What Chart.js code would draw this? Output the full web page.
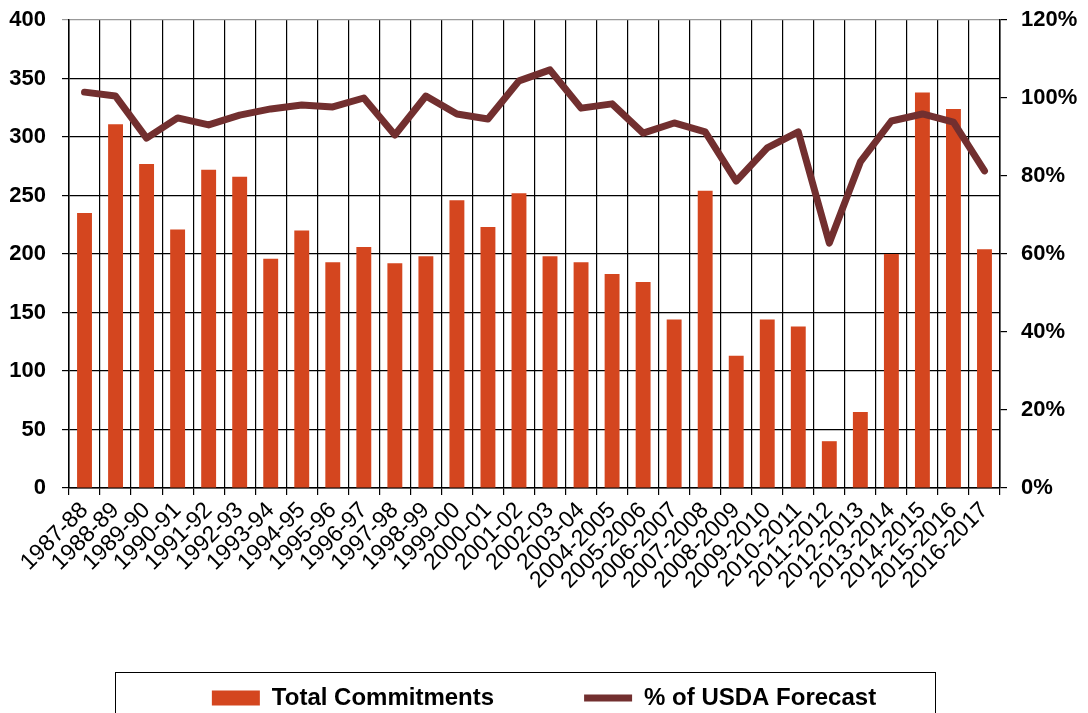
<!DOCTYPE html>
<html>
<head>
<meta charset="utf-8">
<script src="https://cdn.jsdelivr.net/npm/chart.js@4"></script>
<style>
  html, body { margin: 0; padding: 0; background: #fff; }
  #wrap { width: 1088px; height: 713px; }
</style>
</head>
<body>
<div id="wrap"><canvas id="chart" width="1088" height="713"></canvas></div>
<script>
// Crop years
const seasons = ['1987-88', '1988-89', '1989-90', '1990-91', '1991-92', '1992-93', '1993-94', '1994-95',
  '1995-96', '1996-97', '1997-98', '1998-99', '1999-00', '2000-01', '2001-02', '2002-03', '2003-04',
  '2004-2005', '2005-2006', '2006-2007', '2007-2008', '2008-2009', '2009-2010', '2010-2011',
  '2011-2012', '2012-2013', '2013-2014', '2014-2015', '2015-2016', '2016-2017'];

// Total commitments (left axis)
const commitments = [235, 311, 277, 221, 272, 266, 196, 220, 193, 206, 192, 198, 246, 223, 252, 198, 193,
  183, 176, 144, 254, 113, 144, 138, 40, 65, 200, 338, 324, 204];

// % of USDA forecast (right axis)
const pctForecast = [101.5, 100.5, 89.7, 94.9, 93.1, 95.6, 97.2, 98.2, 97.7, 100, 90.5, 100.5, 95.9, 94.6,
  104.4, 107.2, 97.4, 98.5, 91, 93.6, 91.3, 78.7, 87.2, 91.3, 62.8, 83.6, 94.1, 95.9, 93.8, 81.3];

const leftTicks = [0, 50, 100, 150, 200, 250, 300, 350, 400];
const rightTicks = [0, 20, 40, 60, 80, 100, 120];

const barColor = '#D4461F';
const lineColor = '#722F2F';
const font = 'Liberation Sans, Arial, sans-serif';

// box around the legend
const legendFrame = {
  id: 'legendFrame',
  afterDraw(chart) {
    const ctx = chart.ctx;
    ctx.save();
    ctx.strokeStyle = '#000';
    ctx.lineWidth = 1;
    ctx.strokeRect(115.5, 672.5, 820, 60);
    ctx.restore();
  }
};

const ctx = document.getElementById('chart').getContext('2d');
new Chart(ctx, {
  data: {
    labels: seasons,
    datasets: [
      {
        type: 'line',
        label: '% of USDA Forecast',
        data: pctForecast,
        yAxisID: 'yRight',
        borderColor: lineColor,
        backgroundColor: lineColor,
        borderWidth: 7,
        borderCapStyle: 'round',
        borderJoinStyle: 'round',
        pointRadius: 0,
        pointStyle: 'line',
        tension: 0,
        order: 0
      },
      {
        type: 'bar',
        label: 'Total Commitments',
        data: commitments,
        yAxisID: 'y',
        backgroundColor: barColor,
        borderWidth: 0,
        pointStyle: 'rect',
        barPercentage: 0.48,
        categoryPercentage: 1,
        order: 1
      }
    ]
  },
  options: {
    responsive: false,
    animation: false,
    layout: { padding: { top: 20, left: 9, right: 9, bottom: -7 } },
    plugins: {
      tooltip: { enabled: false },
      legend: {
        position: 'bottom',
        reverse: true,
        labels: {
          usePointStyle: true,
          pointStyleWidth: 48,
          boxWidth: 48,
          boxHeight: 15,
          padding: 90,
          color: '#000',
          font: { family: font, size: 24, weight: 'bold' }
        }
      }
    },
    scales: {
      x: {
        offset: true,
        grid: {
          offset: true,
          color: '#000',
          lineWidth: 1.2,
          tickLength: 7
        },
        border: { color: '#000', width: 1.5 },
        ticks: {
          color: '#000',
          maxRotation: 45,
          minRotation: 45,
          autoSkip: false,
          padding: 2,
          font: { family: font, size: 23 }
        },
        afterFit(scale) {
          scale.height = 108;
          scale.paddingLeft = 0;
          scale.paddingRight = 0;
        }
      },
      y: {
        position: 'left',
        min: 0,
        max: 400,
        afterBuildTicks(scale) { scale.ticks = leftTicks.map(v => ({ value: v })); },
        grid: {
          color: c => (c.tick && c.tick.value === 400 ? '#999' : '#000'),
          lineWidth: 1.2,
          tickLength: 7
        },
        border: { color: '#000', width: 1.5 },
        ticks: {
          color: '#000',
          padding: 16,
          font: { family: font, size: 22, weight: 'bold' }
        },
        afterFit(scale) {
          scale.width = 60;
          scale.paddingTop = 0;
          scale.paddingBottom = 0;
        }
      },
      yRight: {
        position: 'right',
        min: 0,
        max: 120,
        afterBuildTicks(scale) { scale.ticks = rightTicks.map(v => ({ value: v })); },
        grid: { drawOnChartArea: false, color: '#000', lineWidth: 1.2, tickLength: 7 },
        border: { color: '#000', width: 1.5 },
        ticks: {
          color: '#000',
          padding: 14,
          callback: v => v + '%',
          font: { family: font, size: 22, weight: 'bold' }
        },
        afterFit(scale) {
          scale.width = 79;
          scale.paddingTop = 0;
          scale.paddingBottom = 0;
        }
      }
    }
  },
  plugins: [legendFrame]
});
</script>
</body>
</html>
